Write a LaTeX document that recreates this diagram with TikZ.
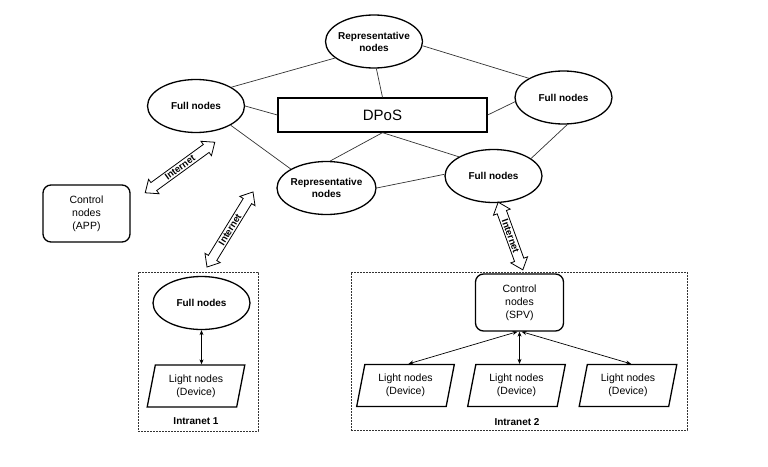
\documentclass[tikz,border=0pt]{standalone}
\usepackage{fontspec}
\setmainfont{Liberation Sans}
\usetikzlibrary{shapes.geometric,shapes.arrows,arrows.meta,calc}
\begin{document}
\begin{tikzpicture}[x=1pt,y=-1pt,
  ell/.style={draw, line width=1.3pt, ellipse, inner xsep=-2pt, inner ysep=2pt,
    minimum width=97pt, minimum height=53pt, align=center, fill=white,
    font=\bfseries\fontsize{10}{12}\selectfont},
  ctrl/.style={draw, line width=1.3pt, rounded corners=8pt, minimum width=88pt,
    minimum height=57pt, align=center, font=\fontsize{10.5}{13}\selectfont},
  light/.style={draw, line width=1.3pt, trapezium, trapezium left angle=76.6,
    trapezium right angle=103.4, trapezium stretches=true, minimum width=98pt,
    minimum height=42pt, align=center, inner sep=0pt, font=\fontsize{10.5}{13}\selectfont},
  link/.style={draw=black!80, line width=0.7pt},
  netarrow/.style={draw, line width=0.8pt, fill=white, double arrow,
    double arrow head extend=4pt, double arrow tip angle=80, inner xsep=1pt,
    inner ysep=1.2pt, font=\bfseries\fontsize{9.5}{10}\selectfont},
  intra/.style={draw=black!80, line width=0.7pt, dash pattern=on 2pt off 1pt},
  dbl/.style={draw, line width=0.7pt, {Stealth[length=5pt,width=4pt]}-{Stealth[length=5pt,width=4pt]}},
  lbl/.style={font=\bfseries\fontsize{10}{12}\selectfont}
]
\useasboundingbox (0,0) rectangle (768,466);
\fill[white] (0,0) rectangle (768,466);

% intranet boxes
\node[intra, minimum width=120pt, minimum height=159pt] (I1) at (198,351.5) {};
\node[intra, minimum width=336pt, minimum height=158pt] (I2) at (519,351) {};
\node[lbl] (I1l) at (196,421) {Intranet 1};
\node[lbl] (I2l) at (517,422) {Intranet 2};

% DPoS network
\node[ell] (Trep) at (374,41.5) {Representative\\nodes};
\node[ell] (Lfull) at (196,106) {Full nodes};
\node[ell] (Rfull) at (563.5,97.5) {Full nodes};
\node[ell] (BRfull) at (493.5,176) {Full nodes};
\node[ell, minimum width=99pt] (Brep) at (326.5,188) {Representative\\nodes};
\node[draw, line width=1.3pt, minimum width=209pt, minimum height=34pt,
  font=\fontsize{15}{18}\selectfont] (DPoS) at (382.5,115) {DPoS};

\draw[link] (Lfull.28) -- (Trep.203);
\draw[link] (Trep.355) -- (Rfull.151);
\draw[link] (Trep.275) -- (DPoS.north);
\draw[link] (Lfull.east) -- (DPoS.west);
\draw[link] (Lfull.331) -- (Brep.152);
\draw[link] (DPoS.south) -- (Brep.82);
\draw[link] (DPoS.south) -- (BRfull.151);
\draw[link] (Brep.east) -- (BRfull.178);
\draw[link] (DPoS.east) -- (Rfull.185);
\draw[link] (Rfull.278) -- (BRfull.25);

% control node APP
\node[ctrl, minimum width=87pt] (APP) at (86.5,213.5) {Control\\nodes\\(APP)};

% internet arrows
\node[netarrow, minimum height=86pt, rotate=36] (Net1) at (180,167.5) {Internet};
\node[netarrow, minimum height=88pt, rotate=58.5] (Net2) at (230,229.5) {Internet};
\node[netarrow, minimum height=72pt, rotate=-70] (Net3) at (510.5,236) {Internet};

% intranet 1
\node[ell] (F1) at (201.5,303) {Full nodes};
\node[light] (L1) at (196,386) {Light nodes\\(Device)};
\draw[dbl] (F1.south) -- (F1.south |- L1.north);

% intranet 2
\node[ctrl] (SPV) at (519.5,302.5) {Control\\nodes\\(SPV)};
\node[light] (L2a) at (405.5,385.5) {Light nodes\\(Device)};
\node[light] (L2b) at (516.5,385.5) {Light nodes\\(Device)};
\node[light] (L2c) at (628,385.5) {Light nodes\\(Device)};
\draw[dbl] ([xshift=-2pt]SPV.south) -- ([xshift=3pt]L2a.north);
\draw[dbl] (SPV.south) -- ([xshift=3pt]L2b.north);
\draw[dbl] ([xshift=2pt]SPV.south) -- ([xshift=3pt]L2c.north);
\end{tikzpicture}
\end{document}
